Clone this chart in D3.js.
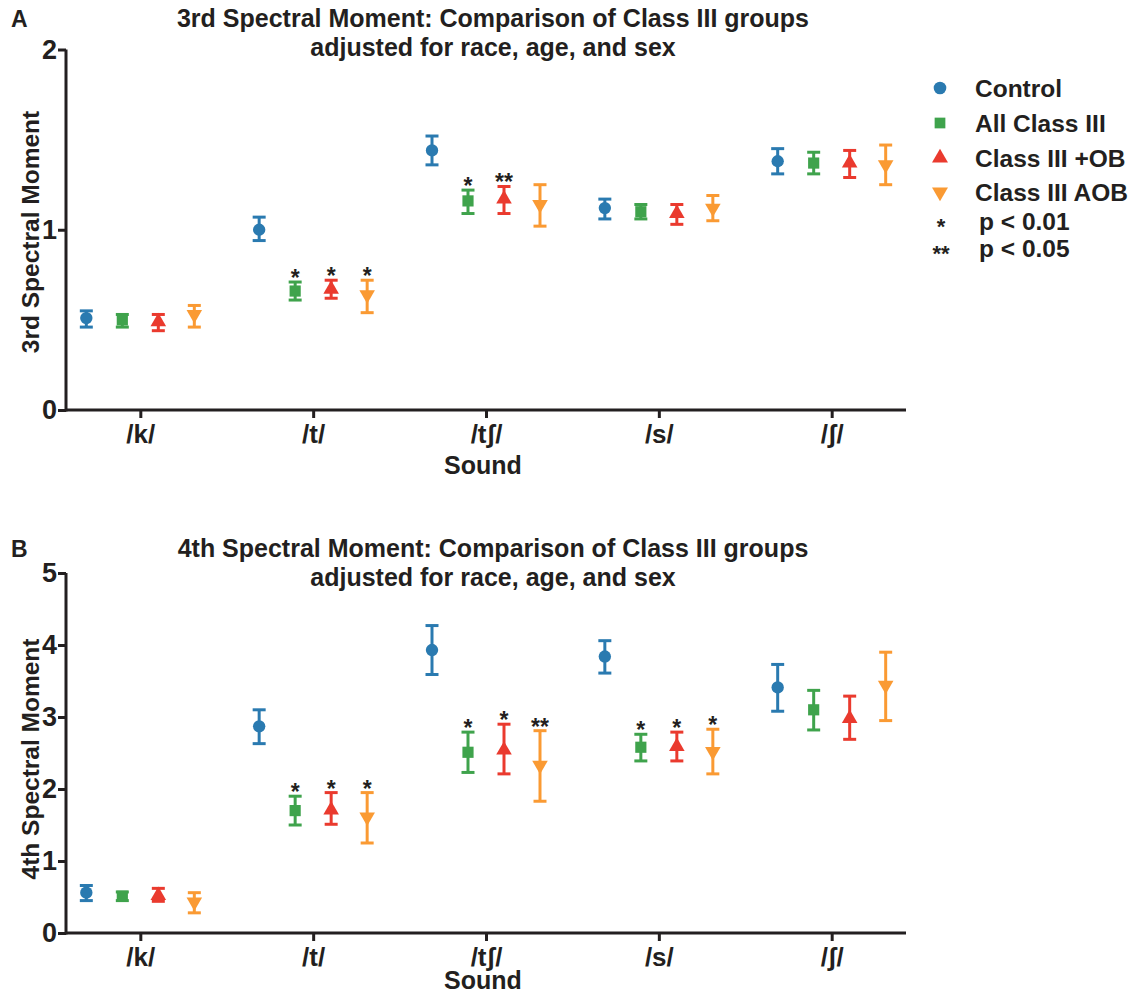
<!DOCTYPE html>
<html>
<head>
<meta charset="utf-8">
<script src="https://cdn.jsdelivr.net/npm/d3@7"></script>
<style>
  html, body { margin: 0; padding: 0; background: #fff; }
  svg { display: block; }
  text { font-family: "Liberation Sans", Arial, Helvetica, sans-serif; font-weight: bold; fill: #231f20; }
</style>
</head>
<body>
<svg id="chart" width="1131" height="994"></svg>
<script>
// ---------- data ----------
const categories = ["/k/", "/t/", "/tʃ/", "/s/", "/ʃ/"];
const groups = ["Control", "All Class III", "Class III +OB", "Class III AOB"];
const groupColors = ["#2a7ab0", "#3fa34c", "#ea3a2e", "#fa9a33"];
const groupSymbols = ["circle", "square", "triangle", "triangleDown"];

// 3rd spectral moment: [low, mean, high] per sound
const m3Control = [[0.46, 0.51, 0.55], [0.94, 1.00, 1.07], [1.36, 1.44, 1.52], [1.06, 1.12, 1.17], [1.31, 1.38, 1.45]];
const m3AllClass3 = [[0.46, 0.50, 0.53], [0.61, 0.66, 0.71], [1.09, 1.16, 1.22], [1.06, 1.10, 1.14], [1.31, 1.37, 1.43]];
const m3ClassOB = [[0.44, 0.49, 0.53], [0.62, 0.67, 0.72], [1.09, 1.17, 1.24], [1.03, 1.09, 1.14], [1.29, 1.37, 1.44]];
const m3ClassAOB = [[0.46, 0.53, 0.58], [0.54, 0.64, 0.72], [1.02, 1.14, 1.25], [1.05, 1.12, 1.19], [1.25, 1.36, 1.47]];
const m3Stars = [["", "", "", ""], ["", "*", "*", "*"], ["", "*", "**", ""], ["", "", "", ""], ["", "", "", ""]];

// 4th spectral moment: [low, mean, high] per sound
const m4Control = [[0.45, 0.56, 0.66], [2.63, 2.87, 3.10], [3.59, 3.93, 4.27], [3.61, 3.84, 4.06], [3.08, 3.41, 3.73]];
const m4AllClass3 = [[0.45, 0.51, 0.57], [1.50, 1.70, 1.90], [2.23, 2.51, 2.79], [2.39, 2.58, 2.76], [2.82, 3.10, 3.37]];
const m4ClassOB = [[0.44, 0.52, 0.62], [1.51, 1.71, 1.95], [2.21, 2.54, 2.90], [2.39, 2.59, 2.79], [2.69, 2.98, 3.29]];
const m4ClassAOB = [[0.28, 0.43, 0.56], [1.25, 1.61, 1.95], [1.83, 2.33, 2.81], [2.21, 2.52, 2.83], [2.95, 3.44, 3.90]];
const m4Stars = [["", "", "", ""], ["", "*", "*", "*"], ["", "*", "*", "**"], ["", "*", "*", "*"], ["", "", "", ""]];

const m3Ticks = [0, 1, 2];
const m4Ticks = [0, 1, 2, 3, 4, 5];

const legendLabels = ["Control", "All Class III", "Class III +OB", "Class III AOB"];
const legendNotes = [["*", "p < 0.01"], ["**", "p < 0.05"]];

// ---------- drawing ----------
const svg = d3.select("#chart");
const ink = "#231f20";
const FONT = "'Liberation Sans', Arial, sans-serif";

function symbolPath(kind, size) {
  if (kind === "circle") return d3.symbol(d3.symbolCircle, size)();
  if (kind === "square") return d3.symbol(d3.symbolSquare, size)();
  return d3.symbol(d3.symbolTriangle, size)();
}

function drawPanel(opt) {
  const g = svg.append("g");
  const x = d3.scalePoint().domain(categories).range([66, 906]).padding(0.43);
  const y = d3.scaleLinear().domain([0, opt.yMax]).range([opt.y0, opt.yTop]);
  const offsets = d3.scalePoint().domain(groups).range([-54, 54]);

  // panel letter and title
  g.append("text").attr("x", 11).attr("y", opt.titleY).style("font-size", "23px").text(opt.letter);
  g.append("text").attr("x", 493).attr("y", opt.titleY).attr("text-anchor", "middle")
    .style("font-size", "25px").text(opt.title1);
  g.append("text").attr("x", 493).attr("y", opt.titleY + 29).attr("text-anchor", "middle")
    .style("font-size", "25px").text(opt.title2);

  // y axis
  const yAxis = g.append("g").attr("transform", "translate(66,0)")
    .call(d3.axisLeft(y).tickValues(opt.ticks).tickFormat(d3.format("d")).tickSizeOuter(0).tickSizeInner(8).tickPadding(1));
  yAxis.select(".domain").attr("stroke", ink).attr("stroke-width", 3)
    .attr("d", `M0,${opt.y0 + 1.5}V${opt.yTop}`);
  yAxis.selectAll(".tick line").attr("stroke", ink).attr("stroke-width", 3);
  yAxis.selectAll(".tick text").attr("fill", ink).style("font-size", "27px")
    .style("font-family", FONT).style("font-weight", "bold");

  // x axis
  const xAxis = g.append("g").attr("transform", `translate(0,${opt.y0})`)
    .call(d3.axisBottom(x).tickSizeOuter(0).tickSizeInner(8));
  xAxis.select(".domain").attr("stroke", ink).attr("stroke-width", 3).attr("d", "M66,0H906");
  xAxis.selectAll(".tick line").attr("stroke", ink).attr("stroke-width", 3);
  xAxis.selectAll(".tick text").attr("fill", ink).attr("y", opt.tickLabelDy).attr("dy", 0)
    .style("font-size", "26px").style("font-family", FONT).style("font-weight", "bold");

  // axis titles
  g.append("text").attr("x", 483).attr("y", opt.y0 + opt.soundDy).attr("text-anchor", "middle")
    .style("font-size", "25px").text("Sound");
  g.append("text").attr("transform", `translate(39,${opt.yLabelMid}) rotate(-90)`)
    .attr("text-anchor", "middle").style("font-size", "24.5px").text(opt.yLabel);

  // series
  opt.series.forEach((ser, gi) => {
    const col = groupColors[gi];
    const sg = g.append("g");
    ser.forEach((v, ci) => {
      const cx = x(categories[ci]) + offsets(groups[gi]);
      const [lo, mean, hi] = v;
      sg.append("line").attr("x1", cx).attr("x2", cx).attr("y1", y(lo)).attr("y2", y(hi))
        .attr("stroke", col).attr("stroke-width", 3);
      [lo, hi].forEach(e => {
        sg.append("line").attr("x1", cx - 6.5).attr("x2", cx + 6.5).attr("y1", y(e)).attr("y2", y(e))
          .attr("stroke", col).attr("stroke-width", 3);
      });
      const kind = groupSymbols[gi];
      let t = `translate(${cx},${y(mean)})`;
      if (kind === "triangleDown") t += " rotate(180)";
      const size = kind === "circle" ? 120 : kind === "square" ? 125 : 105;
      sg.append("path").attr("d", symbolPath(kind, size)).attr("transform", t).attr("fill", col);
      const star = opt.stars[ci][gi];
      if (star) {
        g.append("text").attr("x", cx).attr("y", y(hi) + 4).attr("text-anchor", "middle")
          .style("font-size", "23px").text(star);
      }
    });
  });
}

drawPanel({
  letter: "A", titleY: 27,
  title1: "3rd Spectral Moment: Comparison of Class III groups",
  title2: "adjusted for race, age, and sex",
  yMax: 2, y0: 410, yTop: 49.5, ticks: m3Ticks,
  yLabel: "3rd Spectral Moment", yLabelMid: 232,
  tickLabelDy: 33, soundDy: 64,
  series: [m3Control, m3AllClass3, m3ClassOB, m3ClassAOB], stars: m3Stars
});

drawPanel({
  letter: "B", titleY: 557,
  title1: "4th Spectral Moment: Comparison of Class III groups",
  title2: "adjusted for race, age, and sex",
  yMax: 5, y0: 933, yTop: 573, ticks: m4Ticks,
  yLabel: "4th Spectral Moment", yLabelMid: 759,
  tickLabelDy: 33, soundDy: 56,
  series: [m4Control, m4AllClass3, m4ClassOB, m4ClassAOB], stars: m4Stars
});

// legend
const lg = svg.append("g");
const legendY = [88, 123, 158, 192];
legendLabels.forEach((lab, i) => {
  const kind = groupSymbols[i];
  let t = `translate(940,${legendY[i]})`;
  if (kind === "triangleDown") t += " rotate(180)";
  const size = kind === "circle" ? 125 : kind === "square" ? 115 : 110;
  lg.append("path").attr("d", symbolPath(kind, size)).attr("transform", t).attr("fill", groupColors[i]);
  lg.append("text").attr("x", 975).attr("y", legendY[i] + 9).style("font-size", "24.5px").text(lab);
});
const starBase = [234, 261];
const noteBase = [230, 257];
legendNotes.forEach((n, i) => {
  lg.append("text").attr("x", 941).attr("y", starBase[i]).attr("text-anchor", "middle")
    .style("font-size", "22px").text(n[0]);
  lg.append("text").attr("x", 979).attr("y", noteBase[i]).style("font-size", "24.5px").text(n[1]);
});
</script>
</body>
</html>
